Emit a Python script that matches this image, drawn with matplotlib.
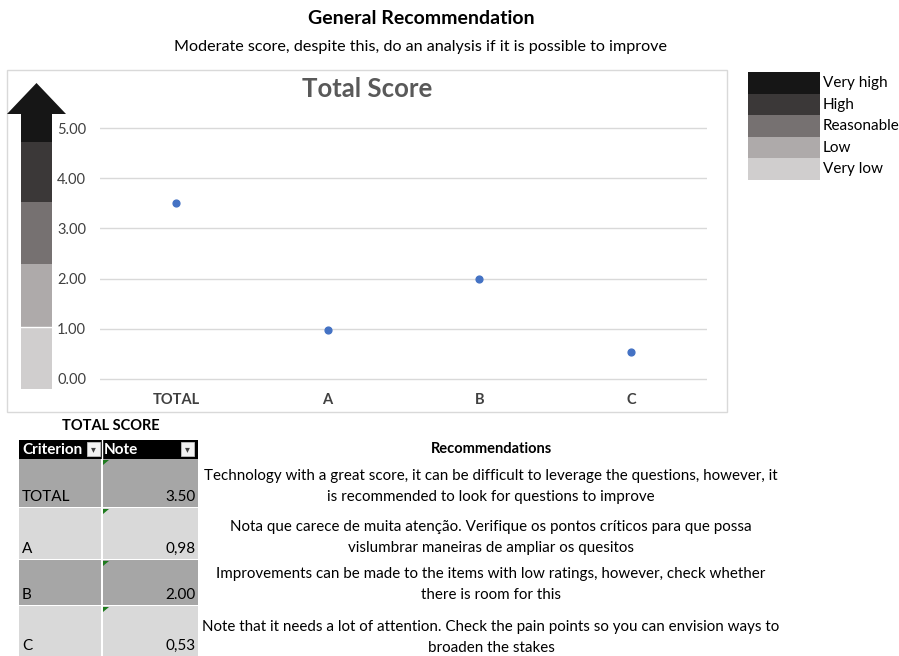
import matplotlib.pyplot as plt
from matplotlib.patches import Rectangle, Polygon
import numpy as np

plt.rcParams['font.family'] = ['Lato', 'DejaVu Sans']

# data
categories = ["TOTAL", "A", "B", "C"]
scores = [3.50, 0.98, 2.00, 0.53]
score_labels = ["3.50", "0,98", "2.00", "0,53"]
yticks = [0, 1, 2, 3, 4, 5]
levels = ["Very high", "High", "Reasonable", "Low", "Very low"]
level_colors = ["#161616", "#3b3838", "#767171", "#aeaaaa", "#d0cece"]
recommendations = [
    "Technology with a great score, it can be difficult to leverage the questions, however, it\nis recommended to look for questions to improve",
    "Nota que carece de muita atenção. Verifique os pontos críticos para que possa\nvislumbrar maneiras de ampliar os quesitos",
    "Improvements can be made to the items with low ratings, however, check whether\nthere is room for this",
    "Note that it needs a lot of attention. Check the pain points so you can envision ways to\nbroaden the stakes",
]

W, H = 899, 656
fig = plt.figure(figsize=(W / 100, H / 100), dpi=100)

# background canvas in pixel units
bg = fig.add_axes([0, 0, 1, 1])
bg.set_xlim(0, W)
bg.set_ylim(H, 0)
bg.axis("off")

bg.text(421, 19, "General Recommendation", ha="center", va="center", fontsize=14, fontweight="bold")
bg.text(420, 47, "Moderate score, despite this, do an analysis if it is possible to improve",
        ha="center", va="center", fontsize=11.6)

# chart frame
bg.add_patch(Rectangle((7, 70), 720, 342, fill=False, edgecolor="#d9d9d9", lw=1))
bg.text(367, 89, "Total Score", ha="center", va="center", fontsize=18.5, fontweight="bold", color="#595959")

# scale arrow on the left of the chart
bands = [(113, 142), (142, 202), (202, 264), (264, 327), (327, 389)]
for (y0, y1), c in zip(bands, level_colors):
    bg.add_patch(Rectangle((21, y0), 31, y1 - y0, facecolor=c, edgecolor="none"))
bg.add_patch(Polygon([(7, 114), (36.5, 83), (66, 114)], closed=True, facecolor=level_colors[0], edgecolor="none"))
bg.plot([21, 52], [327, 327], color="white", lw=1)

# legend of levels
for i, (lab, c) in enumerate(zip(levels, level_colors)):
    y0 = 72 + i * 21.6
    bg.add_patch(Rectangle((748, y0), 72, 21.6, facecolor=c, edgecolor="none"))
    bg.text(823, y0 + 11, lab, ha="left", va="center", fontsize=11)

# scatter chart
px_per_unit = 50.2
y_zero = 379
top_px, bot_px = 120, 386
ax = fig.add_axes([100 / W, 1 - bot_px / H, 607 / W, (bot_px - top_px) / H])
ax.set_xlim(-0.5, len(categories) - 0.5)
ax.set_ylim((y_zero - bot_px) / px_per_unit, (y_zero - top_px) / px_per_unit)
ax.scatter(range(len(categories)), scores, s=24, color="#4472c4", zorder=3)
ax.set_yticks(yticks)
ax.set_yticklabels([f"{v:.2f}" for v in yticks], fontsize=10.5)
ax.set_xticks(range(len(categories)))
ax.set_xticklabels(categories, fontsize=10.5, fontweight="bold")
ax.tick_params(length=0, pad=10, colors="#404040", axis="y")
ax.tick_params(length=0, pad=5, colors="#404040", axis="x")
ax.grid(axis="y", color="#d9d9d9", lw=1)
ax.set_axisbelow(True)
for s in ax.spines.values():
    s.set_visible(False)
ax.patch.set_alpha(0)

# score table
bg.text(111, 426, "TOTAL SCORE", ha="center", va="center", fontsize=10.5, fontweight="bold")
bg.add_patch(Rectangle((19, 440), 179, 19, facecolor="black", edgecolor="none"))
bg.plot([101.5, 101.5], [440, 459], color="white", lw=1)
bg.text(22, 449.5, "Criterion", ha="left", va="center", fontsize=11, fontweight="bold", color="white")
bg.text(104, 449.5, "Note", ha="left", va="center", fontsize=11, fontweight="bold", color="white")
for bx in (87, 181):
    bg.add_patch(Rectangle((bx, 442), 13, 14, facecolor="#f2f2f2", edgecolor="#bfbfbf", lw=0.6))
    bg.text(bx + 6.5, 449, "▾", ha="center", va="center", fontsize=7, color="#404040",
            family="DejaVu Sans")

rows = [(459, 507), (508, 559), (560, 605), (606, 656)]
row_colors = ["#a6a6a6", "#d9d9d9", "#a6a6a6", "#d9d9d9"]
for (y0, y1), c, cat, lab in zip(rows, row_colors, categories, score_labels):
    bg.add_patch(Rectangle((19, y0), 82, y1 - y0, facecolor=c, edgecolor="none"))
    bg.add_patch(Rectangle((102.5, y0), 95.5, y1 - y0, facecolor=c, edgecolor="none"))
    bg.add_patch(Polygon([(103, y0 + 1), (109, y0 + 1), (103, y0 + 6)], facecolor="#1e7b1e", edgecolor="none"))
    bg.text(22, y1 - 10, cat, ha="left", va="center", fontsize=11)
    bg.text(196, y1 - 10, lab, ha="right", va="center", fontsize=11)

# recommendations
bg.text(491, 449, "Recommendations", ha="center", va="center", fontsize=10.5, fontweight="bold")
for txt, yc in zip(recommendations, [486.5, 537.5, 584.5, 637.5]):
    bg.text(491, yc, txt, ha="center", va="center", fontsize=10.9, linespacing=1.55)

fig.savefig("out.png", dpi=100)
